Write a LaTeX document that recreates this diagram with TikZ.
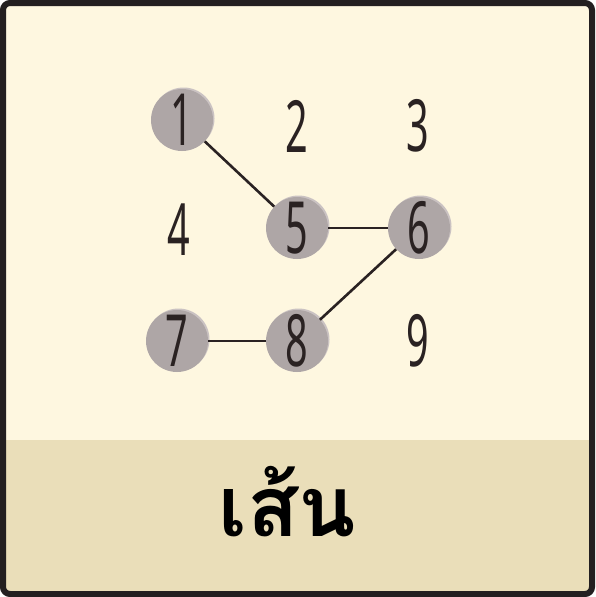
\documentclass[tikz,border=0pt]{standalone}
\usepackage{fontspec}
\setmainfont{Noto Sans}
\newfontfamily\thaifont[Script=Thai]{Loma}
\definecolor{cream}{RGB}{254, 247, 224}
\definecolor{band}{RGB}{234, 222, 185}
\definecolor{frame}{RGB}{35, 31, 32}
\definecolor{ink}{RGB}{42, 34, 34}
\definecolor{dotgray}{RGB}{174, 166, 166}
\definecolor{dotlight}{RGB}{202, 194, 194}

\begin{document}
\begin{tikzpicture}[x=1pt, y=-1pt,
    digit/.style = {
        text       = ink,
        inner sep  = 0pt,
        font       = \fontsize{72}{72}\selectfont\addfontfeature{FakeStretch=0.55}
    },
    dot/.style = {
        digit,
        circle,
        minimum size = 62pt,
        fill         = dotgray,
        preaction    = {fill=dotlight, transform canvas={shift={(1.5pt,1.5pt)}}}
    },
    link/.style = {draw=ink, line width=2.6pt}
]
    \useasboundingbox (0,0) rectangle (595,597);
    \fill[cream] (3,3) rectangle (592,594);
    \fill[band] (6,440) rectangle (589,591);
    \draw[frame, line width=6pt, rounded corners=7pt] (3,3) rectangle (592,594);

    % grid of digits
    \node[dot]   (n1) at (182,120) {1};
    \node[digit] (n2) at (297,126) {2};
    \node[digit] (n3) at (418,126) {3};
    \node[digit] (n4) at (179,230) {4};
    \node[dot]   (n5) at (297,228) {5};
    \node[dot]   (n6) at (419,228) {6};
    \node[dot]   (n7) at (177,341) {7};
    \node[dot]   (n8) at (297,341) {8};
    \node[digit] (n9) at (418,341) {9};

    \draw[link] (n1) -- (n5);
    \draw[link] (n5) -- (n6);
    \draw[link] (n6) -- (n8);
    \draw[link] (n7) -- (n8);

    \node[font=\fontsize{84}{84}\selectfont\thaifont\bfseries] (word) at (287,502) {เส้น};
\end{tikzpicture}
\end{document}
